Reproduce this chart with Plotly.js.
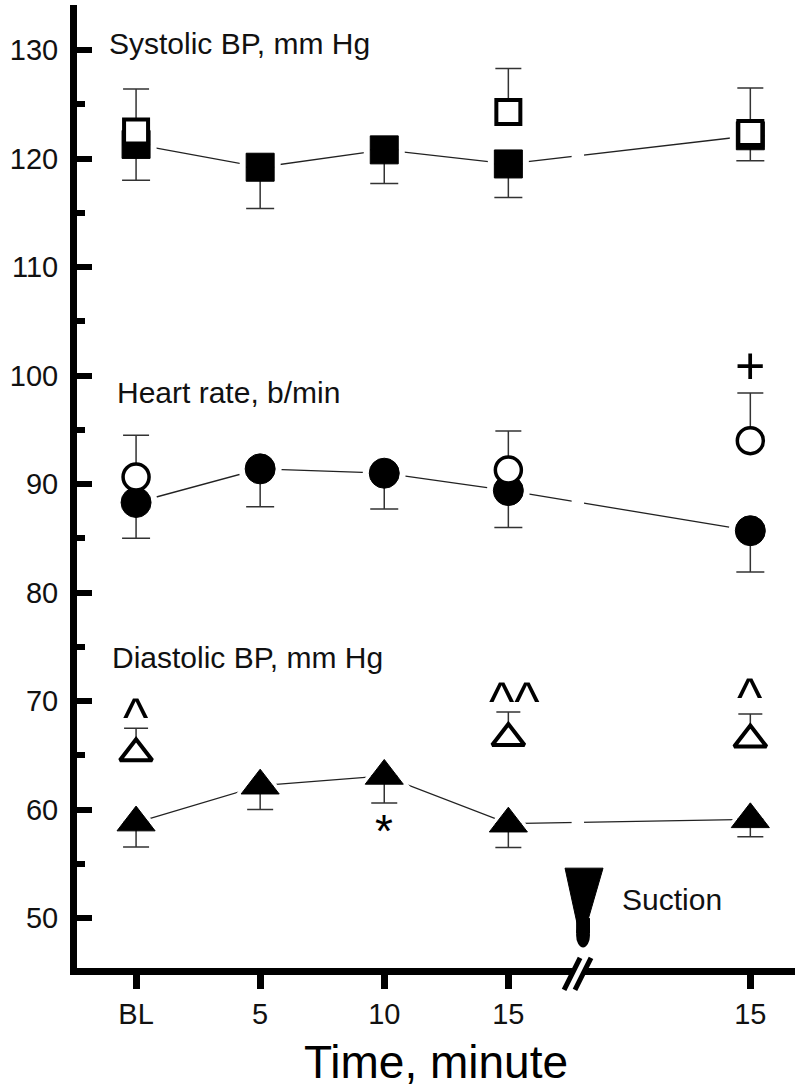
<!DOCTYPE html>
<html>
<head>
<meta charset="utf-8">
<script src="https://cdn.plot.ly/plotly-3.0.1.min.js"></script>
<style>html,body{margin:0;padding:0;background:#fff;}#chart{width:800px;height:1088px;}</style>
</head>
<body>
<div id="chart"></div>
<script>
// ---- data ----
var xPos = [0, 1, 2, 3, 4.95];
var tickLabels = ['BL', '5', '10', '15', '15'];
var xOpen = [0, 3, 4.95];

var sysFilled = [121.3, 119.2, 120.8, 119.5, 122.1];
var sysFilledSE = [3.3, 3.8, 3.1, 3.1, 2.3];
var sysOpen = [122.5, 124.3, 122.35];
var sysOpenSE = [3.9, 4.0, 4.15];

var hrFilled = [88.3, 91.4, 91.0, 89.4, 85.7];
var hrFilledSE = [3.3, 3.5, 3.3, 3.4, 3.8];
var hrOpen = [90.65, 91.3, 94.0];
var hrOpenSE = [3.85, 3.6, 4.4];

var diaFilled = [58.8, 62.2, 63.1, 58.7, 59.1];
var diaFilledSE = [2.25, 2.2, 2.5, 2.2, 1.6];
var diaOpen = [65.2, 66.6, 66.45];
var diaOpenSE = [2.3, 2.4, 2.35];

var seriesLabels = ['Systolic BP, mm Hg', 'Heart rate, b/min', 'Diastolic BP, mm Hg'];
var labelX = [-0.235, -0.17, -0.21];
var labelY = [130.6, 98.43, 74.0];

var sigText = ['^', '^^', '^', '+', '*'];
var sigX = [0, 3.05, 4.95, 4.95, 2];
var sigY = [68.5, 70.0, 70.4, 100.9, 58.0];
var sigSize = [54, 54, 54, 52, 46];

var FONT = 'Liberation Sans, Arial, Helvetica, sans-serif';
var LINEC = '#222';
var ERRC = '#333';

function zeros(n){ var a=[]; for(var i=0;i<n;i++) a.push(0); return a; }

var groups = [
  {f: sysFilled, fse: sysFilledSE, o: sysOpen, ose: sysOpenSE, sym: 'square', fs: 28, os: 24, ow: 4, ew: 14},
  {f: hrFilled, fse: hrFilledSE, o: hrOpen, ose: hrOpenSE, sym: 'circle', fs: 30, os: 26, ow: 3.5, ew: 14},
  {f: diaFilled, fse: diaFilledSE, o: diaOpen, ose: diaOpenSE, sym: 'triangle-up', fs: 33, os: 28, ow: 4, ew: 13}
];

var traces = [];
groups.forEach(function(g){
  traces.push({x: xPos, y: g.f, type: 'scatter', mode: 'lines',
    line: {color: LINEC, width: 1.3}, hoverinfo: 'skip', showlegend: false});
});
groups.forEach(function(g){
  traces.push({x: xPos, y: g.f, type: 'scatter', mode: 'markers',
    marker: {symbol: g.sym, size: g.fs + 13, color: '#fff', line: {width: 0}},
    hoverinfo: 'skip', showlegend: false});
});
groups.forEach(function(g){
  traces.push({x: xPos, y: g.f, type: 'scatter', mode: 'markers',
    marker: {symbol: g.sym, size: g.fs, color: '#000', line: {color: '#000', width: 1}},
    error_y: {type: 'data', symmetric: false, array: zeros(g.f.length), arrayminus: g.fse,
      color: ERRC, thickness: 1.5, width: g.ew},
    showlegend: false});
});
groups.forEach(function(g){
  traces.push({x: xOpen, y: g.o, type: 'scatter', mode: 'markers',
    marker: {symbol: g.sym, size: g.os, color: '#fff', line: {color: '#000', width: g.ow}},
    error_y: {type: 'data', symmetric: false, array: g.ose, arrayminus: zeros(g.o.length),
      color: ERRC, thickness: 1.5, width: g.ew - 1},
    showlegend: false});
});

var annotations = [];
seriesLabels.forEach(function(t, i){
  annotations.push({text: t, x: labelX[i], y: labelY[i], xref: 'x', yref: 'y',
    xanchor: 'left', yanchor: 'middle', showarrow: false,
    font: {family: FONT, size: 30, color: '#111'}});
});
sigText.forEach(function(t, i){
  annotations.push({text: t, x: sigX[i], y: sigY[i], xref: 'x', yref: 'y',
    xanchor: 'center', yanchor: 'middle', showarrow: false,
    font: {family: FONT, size: sigSize[i], color: '#000'}});
});
annotations.push({text: 'Suction', x: 3.9, y: 51.7, xref: 'x', yref: 'y',
  xanchor: 'left', yanchor: 'middle', showarrow: false,
  font: {family: FONT, size: 30, color: '#111'}});

var shapes = [
  // gap in the connecting lines at the axis break
  {type: 'rect', xref: 'x', yref: 'y', x0: 3.51, x1: 3.61, y0: 55.5, y1: 130,
    fillcolor: '#fff', line: {width: 0}, layer: 'above'},
  // suction arrow (wedge + stem)
  {type: 'path', xref: 'x', yref: 'y', path: 'M3.457,54.6 L3.763,54.6 L3.636,49.6 L3.552,49.6 Z',
    fillcolor: '#000', line: {color: '#000', width: 1}, layer: 'above'},
  {type: 'rect', xref: 'x', yref: 'y', x0: 3.546, x1: 3.658, y0: 48.6, y1: 50.0,
    fillcolor: '#000', line: {width: 0}, layer: 'above'},
  {type: 'circle', xref: 'x', yref: 'y', x0: 3.546, x1: 3.658, y0: 47.3, y1: 49.6,
    fillcolor: '#000', line: {width: 0}, layer: 'above'},
  // axis break
  {type: 'path', xref: 'x', yref: 'paper', path: 'M3.485,-0.0135 L3.573,-0.0135 L3.638,0.0031 L3.549,0.0031 Z',
    fillcolor: '#fff', line: {width: 0}, layer: 'above'},
  {type: 'line', xref: 'x', yref: 'paper', x0: 3.449, y0: -0.0228, x1: 3.578, y1: 0.0104,
    line: {color: '#000', width: 5}, layer: 'above'},
  {type: 'line', xref: 'x', yref: 'paper', x0: 3.537, y0: -0.0228, x1: 3.666, y1: 0.0104,
    line: {color: '#000', width: 5}, layer: 'above'}
];

var layout = {
  width: 800, height: 1088,
  margin: {l: 77, r: 5, t: 5, b: 120, pad: 0},
  paper_bgcolor: '#fff', plot_bgcolor: '#fff',
  showlegend: false,
  font: {family: FONT, color: '#111'},
  xaxis: {
    range: [-0.476, 5.31], showgrid: false, zeroline: false,
    showline: true, linecolor: '#000', linewidth: 7,
    tickmode: 'array', tickvals: xPos, ticktext: tickLabels,
    ticks: 'outside', ticklen: 14, tickwidth: 7, tickcolor: '#000',
    tickfont: {family: FONT, size: 29, color: '#111'},
    title: {text: 'Time, minute', font: {family: FONT, size: 46, color: '#000'}, standoff: 23}
  },
  yaxis: {
    range: [45.4, 134.15], showgrid: false, zeroline: false,
    showline: true, linecolor: '#000', linewidth: 7,
    tickmode: 'linear', tick0: 50, dtick: 10,
    ticks: 'inside', ticklen: 15, tickwidth: 6, tickcolor: '#000',
    ticklabelstandoff: 6,
    tickfont: {family: FONT, size: 29, color: '#111'},
    minor: {dtick: 5, tick0: 50, ticks: 'inside', ticklen: 8, tickwidth: 6, tickcolor: '#000', showgrid: false}
  },
  annotations: annotations,
  shapes: shapes
};

Plotly.newPlot('chart', traces, layout, {displayModeBar: false, staticPlot: true});
</script>
</body>
</html>
